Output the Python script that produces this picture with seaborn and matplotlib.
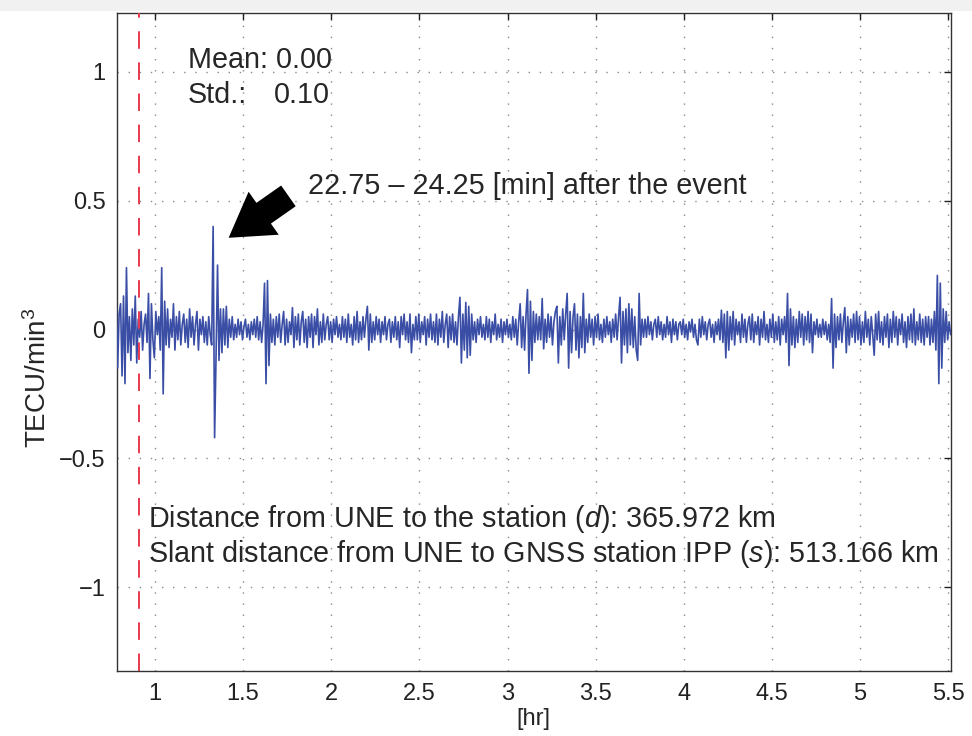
import numpy as np
import pandas as pd
import matplotlib
matplotlib.use("Agg")
import matplotlib.pyplot as plt
from matplotlib.patches import FancyArrowPatch, Rectangle
import seaborn as sns

# ---------------- data ----------------
t_start_hr = 0.78          # first sample [hr]
sample_step_hr = 1 / 120   # 30 s sampling
event_hr = 0.911           # red dashed line

# TEC rate values [TECU/min^3], 12 samples per 0.1 hr block
tec_rate = [
    0.12, -0.15, 0.06, 0.10, -0.18, 0.13, -0.21, 0.24, -0.09, 0.05, -0.12, 0.08,
    -0.06, 0.13, -0.13, 0.04, -0.03, 0.07, -0.08, 0.02, 0.06, -0.05, 0.14, -0.19,
    0.10, -0.04, -0.11, 0.07, -0.02, 0.05, -0.08, 0.24, -0.25, 0.11, -0.06, 0.08,
    -0.07, 0.04, -0.03, 0.10, -0.08, 0.05, -0.04, 0.07, -0.06, 0.02, 0.06, -0.05,
    0.04, -0.07, 0.08, -0.03, 0.05, -0.06, 0.02, 0.07, -0.08, 0.04, -0.02, 0.05,
    -0.05, 0.03, -0.06, 0.05, -0.02, -0.06, 0.40, -0.42, -0.10, 0.25, -0.12, 0.08,
    -0.09, 0.08, -0.06, 0.09, -0.07, 0.04, -0.03, 0.05, -0.04, 0.02, -0.03, 0.04,
    -0.02, 0.03, -0.04, 0.01, 0.04, -0.03, 0.02, -0.04, 0.03, -0.02, 0.04, -0.03,
    0.05, -0.04, 0.03, -0.05, 0.02, 0.18, -0.21, 0.19, -0.14, 0.06, -0.05, 0.04,
    -0.06, 0.05, -0.03, 0.06, -0.05, 0.02, 0.07, -0.06, 0.04, -0.05, 0.03, -0.02,
    0.085, -0.07, 0.05, -0.04, 0.06, -0.06, 0.03, 0.07, -0.05, 0.04, -0.07, 0.05,
    -0.03, 0.06, -0.07, 0.05, -0.02, 0.08, -0.06, 0.03, -0.05, 0.06, -0.04, 0.02,
    0.05, -0.04, 0.03, -0.05, 0.04, -0.02, 0.05, -0.03, 0.02, -0.04, 0.05, -0.03,
    0.04, -0.05, 0.06, -0.03, 0.02, -0.06, 0.05, -0.04, 0.07, -0.05, 0.03, -0.04,
    0.05, -0.03, 0.04, 0.09, -0.08, 0.06, -0.05, 0.03, -0.04, 0.05, -0.02, 0.04,
    -0.05, 0.03, -0.02, 0.05, -0.04, 0.02, 0.04, -0.05, 0.03, -0.03, 0.05, -0.04,
    0.03, -0.07, 0.05, -0.02, 0.06, -0.04, 0.03, -0.05, 0.06, -0.09, 0.02, -0.04,
    0.05, -0.04, 0.06, -0.05, 0.03, -0.02, 0.05, -0.06, 0.04, -0.03, 0.06, -0.04,
    0.03, -0.05, 0.06, -0.06, 0.04, -0.03, 0.07, -0.05, 0.02, 0.06, -0.07, 0.05,
    -0.04, 0.06, -0.05, 0.03, -0.06, 0.05, 0.125, -0.13, 0.06, -0.08, 0.105, -0.11,
    0.09, -0.10, 0.06, -0.04, 0.03, -0.05, 0.04, -0.02, 0.05, -0.03, 0.02, -0.04,
    0.05, -0.03, 0.04, -0.05, 0.03, -0.02, 0.06, -0.04, 0.02, -0.03, 0.04, -0.05,
    0.03, -0.02, 0.04, -0.03, 0.02, -0.04, 0.05, -0.03, 0.04, -0.06, 0.03, 0.10,
    -0.07, 0.05, -0.08, 0.06, 0.155, -0.17, 0.11, -0.12, 0.07, -0.05, 0.06, -0.04,
    0.05, -0.04, 0.12, -0.075, 0.04, -0.05, 0.06, -0.03, 0.05, -0.06, 0.03, 0.07,
    0.09, -0.13, 0.05, -0.06, 0.08, -0.04, 0.06, 0.14, -0.15, 0.07, -0.09, 0.05,
    0.10, -0.08, 0.06, -0.11, 0.05, -0.07, 0.14, -0.09, 0.04, -0.05, 0.06, -0.03,
    0.04, -0.06, 0.05, -0.03, 0.06, -0.04, 0.02, -0.05, 0.04, -0.03, 0.05, -0.02,
    0.03, -0.05, 0.04, -0.03, 0.06, -0.04, 0.05, 0.125, -0.13, 0.07, -0.06, 0.08,
    -0.09, 0.10, -0.06, 0.08, -0.07, 0.05, -0.08, -0.12, 0.14, -0.06, 0.04, -0.03,
    0.04, -0.03, 0.05, -0.02, 0.03, -0.04, 0.02, 0.04, -0.03, 0.05, -0.02, 0.03,
    -0.04, 0.02, -0.03, 0.05, -0.02, 0.03, -0.05, 0.04, -0.02, 0.03, -0.04, 0.02,
    0.03, -0.02, 0.04, -0.03, 0.02, -0.04, 0.03, -0.01, 0.04, -0.03, 0.02, -0.04,
    -0.06, 0.04, -0.03, 0.05, -0.02, 0.03, -0.04, 0.02, 0.04, -0.03, 0.02, -0.05,
    0.03, -0.02, 0.04, -0.04, 0.075, -0.05, 0.06, -0.11, 0.07, -0.08, 0.05, -0.04,
    0.07, -0.06, 0.04, -0.02, 0.03, -0.05, 0.06, -0.03, 0.04, -0.05, 0.02, 0.05,
    -0.04, 0.06, -0.05, 0.03, -0.02, 0.05, -0.06, 0.04, -0.03, 0.07, -0.04, 0.02,
    -0.05, 0.04, -0.03, 0.06, -0.05, 0.03, -0.04, 0.05, -0.06, 0.04, -0.02, 0.05,
    -0.05, 0.14, -0.14, 0.08, -0.06, 0.05, -0.07, 0.04, -0.05, 0.07, -0.03, 0.06,
    -0.06, 0.05, -0.04, 0.07, -0.05, 0.06, -0.09, 0.03, -0.02, 0.04, -0.03, 0.02,
    -0.03, 0.04, -0.02, 0.03, -0.04, 0.02, -0.05, 0.12, -0.15, 0.06, -0.07, 0.05,
    -0.04, 0.06, -0.05, 0.03, 0.085, -0.09, 0.05, -0.06, 0.04, -0.03, 0.06, -0.05,
    0.07, -0.04, 0.05, -0.06, 0.03, -0.05, 0.07, -0.03, 0.04, -0.06, 0.05, -0.02,
    -0.10, 0.06, -0.04, 0.07, -0.05, 0.03, -0.06, 0.05, -0.03, 0.06, -0.07, 0.04,
    -0.05, 0.07, -0.03, 0.05, -0.06, 0.04, -0.02, 0.06, -0.05, 0.03, -0.07, 0.05,
    -0.04, 0.06, -0.05, 0.08, -0.06, 0.03, -0.04, 0.06, -0.05, 0.04, -0.06, 0.05,
    -0.03, 0.05, -0.06, 0.04, -0.05, 0.07, -0.08, 0.21, -0.21, 0.18, -0.15, 0.08,
    -0.05, 0.07, -0.04, 0.03, -0.02,
]

x_ticks = [1, 1.5, 2, 2.5, 3, 3.5, 4, 4.5, 5, 5.5]
x_tick_labels = ["1", "1.5", "2", "2.5", "3", "3.5", "4", "4.5", "5", "5.5"]
y_ticks = [-1, -0.5, 0, 0.5, 1]
y_tick_labels = ["\u22121", "\u22120.5", "0", "0.5", "1"]

mean_text = "Mean: 0.00"
std_label = "Std.:"
std_value = "0.10"
event_text = "22.75 \u2013 24.25 [min] after the event"
dist_text = "Distance from UNE to the station ($d$): 365.972 km"
slant_text = "Slant distance from UNE to GNSS station IPP ($s$): 513.166 km"
arrow_tail = (1.77, 0.525)
arrow_tip = (1.405, 0.35)

# ---------------- figure ----------------
sns.set_style("white")
plt.rcParams["font.family"] = ["Liberation Sans", "DejaVu Sans"]
plt.rcParams["mathtext.fontset"] = "custom"
plt.rcParams["mathtext.rm"] = "Liberation Sans"
plt.rcParams["mathtext.it"] = "Liberation Sans:italic"
plt.rcParams["mathtext.bf"] = "Liberation Sans:bold"

fig = plt.figure(figsize=(9.72, 7.36), dpi=100)
fig.patch.set_facecolor("white")
fig.patches.append(Rectangle((0, 1 - 11 / 736), 1, 11 / 736, transform=fig.transFigure,
                             facecolor="#f1f1f1", edgecolor="none", zorder=0))
ax = fig.add_axes([116.7 / 972, 1 - 671 / 736, (950.7 - 116.7) / 972, (671 - 13) / 736])

df = pd.DataFrame({"hr": t_start_hr + np.arange(len(tec_rate)) * sample_step_hr,
                   "rate": tec_rate})
sns.lineplot(data=df, x="hr", y="rate", ax=ax, color="#3a4ea6", lw=1.2,
             estimator=None, sort=False, zorder=3)

ax.axvline(event_hr, color="#e8394f", lw=1.4, dashes=(9, 7), zorder=4)

ax.set_xlim(0.783, 5.514)
ax.set_ylim(-1.326, 1.229)
ax.set_xticks(x_ticks)
ax.set_xticklabels(x_tick_labels)
ax.set_yticks(y_ticks)
ax.set_yticklabels(y_tick_labels)
ax.tick_params(direction="in", length=5, width=1, colors="#222222", labelsize=17,
               top=True, right=True, pad=8)
ax.tick_params(axis="x", pad=9)
for sp in ax.spines.values():
    sp.set_color("#333333")
    sp.set_linewidth(1.0)
ax.grid(True, color="#8a8a8a", lw=1.0, linestyle=(0, (1, 7)))
ax.set_axisbelow(True)

ax.set_xlabel("[hr]", fontsize=17, labelpad=2)
ax.set_ylabel("TECU/min$^3$", fontsize=20)
ax.yaxis.set_label_coords(-0.078, 0.445)

tr = ax.transAxes
fs = 20.7
ax.text(0.0855, 0.9164, mean_text, transform=tr, fontsize=fs, va="baseline", ha="left")
ax.text(0.0855, 0.8632, std_label, transform=tr, fontsize=fs, va="baseline", ha="left")
ax.text(0.2557, 0.8632, std_value, transform=tr, fontsize=fs, va="baseline", ha="right")
ax.text(0.2294, 0.725, event_text, transform=tr, fontsize=fs, va="baseline", ha="left")
ax.text(0.0375, 0.2188, dist_text, transform=tr, fontsize=fs, va="baseline", ha="left")
ax.text(0.0375, 0.1657, slant_text, transform=tr, fontsize=fs, va="baseline", ha="left")

arrow = FancyArrowPatch(arrow_tail, arrow_tip, transform=ax.transData,
                        arrowstyle="simple,head_width=2.7,head_length=2.2,tail_width=1.3",
                        mutation_scale=14, color="black", lw=0, zorder=5)
ax.add_patch(arrow)

fig.savefig("out.png", dpi=100, facecolor="white")
